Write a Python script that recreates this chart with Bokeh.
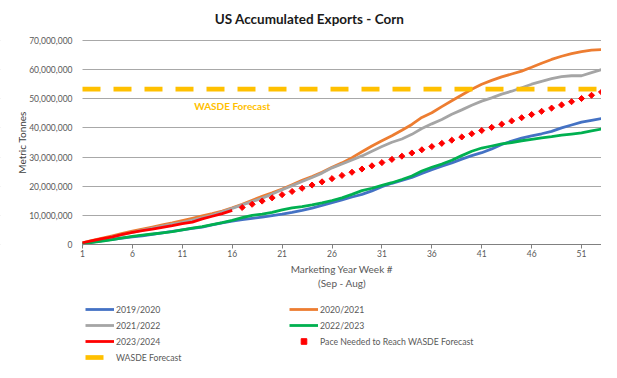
from bokeh.plotting import figure
from bokeh.models import (Range1d, FixedTicker, NumeralTickFormatter, Legend,
                          LegendItem, Label, BoxAnnotation)
from bokeh.embed import file_html
from bokeh.resources import INLINE
import math

# ---------------- data (million tonnes) ----------------
weeks = list(range(1, 54))
y2019_20 = [0.3, 0.8, 1.3, 1.8, 2.2, 2.6, 3.0, 3.5, 4.0, 4.5, 5.0, 5.5, 6.0, 6.7, 7.4, 8.0,
            8.5, 9.0, 9.4, 9.9, 10.4, 11.0, 11.7, 12.5, 13.4, 14.4, 15.3, 16.3, 17.2, 18.4,
            19.8, 21.0, 22.0, 23.0, 24.4, 25.7, 26.9, 28.0, 29.3, 30.5, 31.5, 32.8, 34.3,
            35.5, 36.5, 37.3, 38.0, 38.8, 40.0, 41.0, 42.0, 42.6, 43.2]
y2020_21 = [0.6, 1.4, 2.2, 3.0, 3.8, 4.6, 5.3, 6.0, 6.7, 7.4, 8.2, 9.0, 9.8, 10.6, 11.5, 12.6,
            13.8, 15.2, 16.5, 17.7, 19.0, 20.5, 22.0, 23.3, 24.8, 26.5, 28.0, 29.8, 31.8, 33.8,
            35.6, 37.3, 39.2, 41.2, 43.6, 45.2, 47.3, 49.3, 51.3, 53.3, 55.0, 56.3, 57.5,
            58.5, 59.5, 60.8, 62.2, 63.5, 64.6, 65.5, 66.2, 66.7, 66.9]
y2021_22 = [0.4, 1.1, 1.8, 2.6, 3.4, 4.2, 4.9, 5.6, 6.3, 7.0, 7.6, 8.4, 9.2, 10.1, 11.2, 12.4,
            13.6, 14.7, 15.9, 17.3, 18.8, 20.2, 21.6, 23.0, 24.5, 26.3, 27.6, 29.0, 30.4, 32.0,
            33.6, 35.1, 36.2, 37.8, 39.8, 41.4, 42.9, 44.7, 46.2, 47.8, 49.2, 50.3, 51.6,
            52.6, 53.8, 55.0, 56.0, 56.9, 57.6, 57.9, 57.9, 59.0, 60.0]
y2022_23 = [0.2, 0.7, 1.2, 1.7, 2.3, 2.8, 3.2, 3.6, 4.0, 4.4, 5.0, 5.6, 6.1, 6.8, 7.5, 8.3,
            9.2, 10.0, 10.4, 11.0, 11.9, 12.6, 13.0, 13.6, 14.3, 15.1, 16.0, 17.2, 18.5, 19.3,
            20.3, 21.2, 22.3, 23.5, 25.2, 26.5, 27.6, 28.9, 30.5, 32.0, 33.1, 33.8, 34.5,
            35.0, 35.6, 36.1, 36.6, 37.0, 37.5, 37.9, 38.3, 39.0, 39.6]
weeks_2023_24 = list(range(1, 17))
y2023_24 = [0.6, 1.3, 2.0, 2.6, 3.5, 4.2, 4.8, 5.3, 5.9, 6.5, 7.2, 7.7, 8.8, 9.7, 10.6, 11.7]
weeks_pace = list(range(17, 54))
y_pace = [12.7, 13.8, 14.9, 16.0, 17.1, 18.2, 19.3, 20.4, 21.5, 22.6, 23.7, 24.8, 25.9,
          27.0, 28.1, 29.2, 30.3, 31.4, 32.5, 33.6, 34.7, 35.8, 36.9, 38.0, 39.1, 40.2,
          41.3, 42.4, 43.5, 44.6, 45.7, 46.8, 47.9, 49.0, 50.1, 51.2, 52.3]
wasde_forecast = 53.34  # million tonnes
x_ticks = [1, 6, 11, 16, 21, 26, 31, 36, 41, 46, 51]
y_ticks = [0, 10e6, 20e6, 30e6, 40e6, 50e6, 60e6, 70e6]

MT = 1e6
def t(vals):
    return [v * MT for v in vals]

FONT = "Lato"
TXT = "#595959"

# layout: the plotting frame covers the whole canvas; the axes are fixed inside it
W, H = 601, 362
PX_L, PX_R = 82, 601          # screen x of week 1 / week 53
PX_T, PX_B = 40, 244          # screen y of 70M / 0
kx = (PX_R - PX_L) / (weeks[-1] - weeks[0])
ky = (PX_B - PX_T) / 70e6
x0 = weeks[0] - PX_L / kx
x1 = x0 + W / kx
y1 = 70e6 + PX_T / ky
y0 = -(H - PX_B) / ky

p = figure(width=W, height=H, output_backend="svg", toolbar_location=None,
           x_range=Range1d(x0, x1), y_range=Range1d(y0, y1),
           min_border_left=0, min_border_right=0, min_border_top=0,
           min_border_bottom=0)
p.title.text = ""
p.outline_line_color = None
p.background_fill_color = "white"
p.border_fill_color = "white"

# axes drawn at fixed locations inside the frame
p.xaxis.fixed_location = 0
p.xaxis.bounds = (weeks[0], weeks[-1])
p.xaxis.ticker = FixedTicker(ticks=x_ticks)
p.xaxis.axis_line_color = "#808080"
p.xaxis.major_tick_line_color = "#808080"
p.xaxis.major_tick_in = 0
p.xaxis.major_tick_out = 4
p.xaxis.minor_tick_out = 0
p.xaxis.minor_tick_in = 0
p.xaxis.major_label_standoff = 1
p.xaxis.major_label_text_font = FONT
p.xaxis.major_label_text_font_size = "8.5px"
p.xaxis.major_label_text_color = TXT
p.xaxis.axis_label = "Marketing Year Week #\n(Sep - Aug)"
p.xaxis.axis_label_text_font = FONT
p.xaxis.axis_label_text_font_style = "normal"
p.xaxis.axis_label_text_font_size = "10px"
p.xaxis.axis_label_text_color = TXT
p.xaxis.axis_label_standoff = 3

p.yaxis.fixed_location = weeks[0]
p.yaxis.bounds = (0, 70e6)
p.yaxis.ticker = FixedTicker(ticks=y_ticks)
p.yaxis.formatter = NumeralTickFormatter(format="0,0")
p.yaxis.axis_line_color = None
p.yaxis.major_tick_line_color = None
p.yaxis.minor_tick_line_color = None
p.yaxis.major_tick_out = 0
p.yaxis.major_tick_in = 0
p.yaxis.minor_tick_out = 0
p.yaxis.minor_tick_in = 0
p.yaxis.major_label_standoff = 10
p.yaxis.major_label_text_font = FONT
p.yaxis.major_label_text_font_size = "8.5px"
p.yaxis.major_label_text_color = TXT

p.xgrid.grid_line_color = None
p.ygrid.grid_line_color = "#a8a8a8"
p.ygrid.grid_line_width = 1
# hide the gridline parts left of week 1
p.add_layout(BoxAnnotation(left=x0 - 10, right=weeks[0], top=y1 + 1e7, bottom=y0 - 1e7,
                           level="underlay", fill_color="white", fill_alpha=1,
                           line_alpha=0))

LW = 2.8
r1 = p.line(weeks, t(y2019_20), line_color="#4472C4", line_width=LW)
r2 = p.line(weeks, t(y2020_21), line_color="#ED7D31", line_width=LW)
r3 = p.line(weeks, t(y2021_22), line_color="#A5A5A5", line_width=LW)
r4 = p.line(weeks, t(y2022_23), line_color="#00B050", line_width=LW)
r5 = p.line(weeks_2023_24, t(y2023_24), line_color="#FF0000", line_width=LW)
r6 = p.scatter(weeks_pace, t(y_pace), marker="square", angle=math.pi / 4, size=4.3,
               fill_color="#FF0000", line_color="#FF0000")
r7 = p.line([weeks[0], weeks[-1]], [wasde_forecast * MT] * 2, line_color="#FFC000",
            line_width=4.7, line_dash="18 13")

def sx(px):
    return x0 + px / kx

def sy(py):
    return y1 - py / ky

p.add_layout(Label(x=16, y=47.5e6, text="WASDE Forecast", text_align="center",
                   text_baseline="middle", text_font=FONT, text_font_style="bold",
                   text_font_size="10px", text_color="#FFC000"))
p.add_layout(Label(x=sx(309), y=sy(18), text="US Accumulated Exports - Corn",
                   text_align="center", text_baseline="middle", text_font=FONT,
                   text_font_style="bold", text_font_size="13.5px",
                   text_color="#1a1a1a"))
p.add_layout(Label(x=sx(21), y=sy(142), text="Metric Tonnes", angle=math.pi / 2,
                   text_align="center", text_baseline="middle", text_font=FONT,
                   text_font_size="10px", text_color="#404040"))

legend = Legend(items=[
    LegendItem(label="2019/2020", renderers=[r1]),
    LegendItem(label="2020/2021", renderers=[r2]),
    LegendItem(label="2021/2022", renderers=[r3]),
    LegendItem(label="2022/2023", renderers=[r4]),
    LegendItem(label="2023/2024", renderers=[r5]),
    LegendItem(label="Pace Needed to Reach WASDE Forecast", renderers=[r6]),
    LegendItem(label="WASDE Forecast", renderers=[r7]),
], location=(85, -2), orientation="horizontal", ncols=2,
    glyph_width=29, glyph_height=14, label_height=14, label_width=171,
    label_standoff=2, spacing=2, padding=0, margin=0,
    border_line_color=None, background_fill_alpha=0,
    label_text_font=FONT, label_text_font_size="8.7px", label_text_color=TXT)
p.add_layout(legend)

open("out.html", "w").write(file_html(p, INLINE))
